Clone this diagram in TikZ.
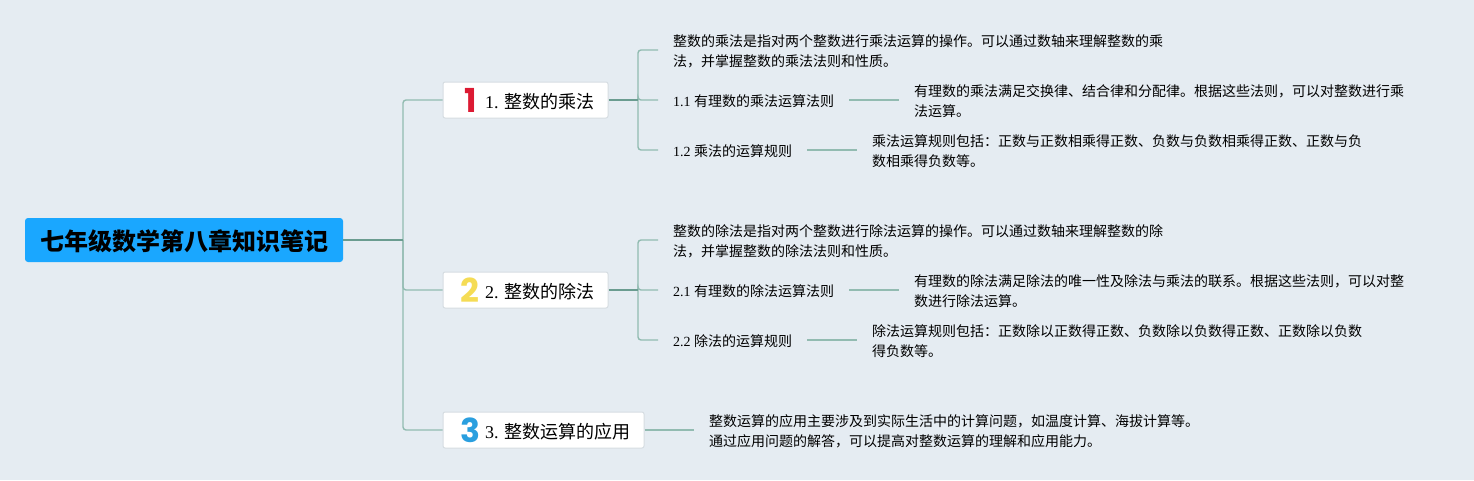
\documentclass[tikz,border=0pt]{standalone}
\usepackage{fontspec}
\setmainfont{Liberation Serif}
\newfontfamily\cjk{Noto Sans CJK SC}
\newfontfamily\numfont{Poppins}
\definecolor{bgcol}{HTML}{E5ECF2}
\definecolor{rootcol}{HTML}{1AA7FF}
\definecolor{linkcol}{HTML}{92BBB1}
\definecolor{darkcol}{HTML}{6A9C90}
\definecolor{boxline}{HTML}{D6DDE2}
\definecolor{onecol}{HTML}{DC1A33}
\definecolor{twocol}{HTML}{F5DC55}
\definecolor{threecol}{HTML}{2A9FDF}
\tikzset{
  rootbox/.style={rectangle,rounded corners=3pt,fill=rootcol,minimum width=318pt,minimum height=44pt,inner sep=0pt,font=\fontsize{24}{28}\selectfont\cjk\bfseries,execute at begin node={\rule{0pt}{24pt}}},
  topicbox/.style={rectangle,rounded corners=2pt,draw=boxline,fill=white,line width=1pt,minimum height=36pt,inner sep=0pt},
  topictext/.style={anchor=west,inner sep=0pt,font=\fontsize{18}{22}\selectfont},
  numicon/.style={inner sep=0pt,font=\fontsize{33}{33}\selectfont\numfont\bfseries},
  notetext/.style={anchor=west,align=left,inner xsep=15pt,inner ysep=0pt,font=\fontsize{14}{20}\selectfont\cjk},
  sublabel/.style={anchor=west,inner xsep=15pt,inner ysep=0pt,font=\fontsize{14}{18}\selectfont},
  link/.style={draw=linkcol,line width=1.4pt,rounded corners=3pt},
  thicklink/.style={draw=darkcol,line width=1.6pt},
}
\begin{document}
\begin{tikzpicture}[x=1pt,y=-1pt]
\useasboundingbox[fill=bgcol] (0,0) rectangle (1474,480);
% root and topics
\node[rootbox] (root) at (184,240) {七年级数学第八章知识笔记};
\node[topicbox,minimum width=165pt] (t1) at (525.5,100) {};
\node[topicbox,minimum width=165pt] (t2) at (525.5,290) {};
\node[topicbox,minimum width=201pt] (t3) at (543.5,430) {};
\node[numicon,text=onecol] (n1) at (470.5,100) {1};
\node[numicon,text=twocol] (n2) at (470,290) {2};
\node[numicon,text=threecol] (n3) at (470,430) {3};
\node[topictext] (l1) at (485,102) {1. {\cjk 整数的乘法}};
\node[topictext] (l2) at (485,292) {2. {\cjk 整数的除法}};
\node[topictext] (l3) at (485,432) {3. {\cjk 整数运算的应用}};
% first topic
\node[notetext] (a0) at (658,51) {整数的乘法是指对两个整数进行乘法运算的操作。可以通过数轴来理解整数的乘\\法，并掌握整数的乘法法则和性质。};
\node[sublabel] (a1) at (658,101) {1.1 {\cjk 有理数的乘法运算法则}};
\node[sublabel] (a2) at (658,151) {1.2 {\cjk 乘法的运算规则}};
\node[notetext] (a3) at (899,101) {有理数的乘法满足交换律、结合律和分配律。根据这些法则，可以对整数进行乘\\法运算。};
\node[notetext] (a4) at (857,151) {乘法运算规则包括：正数与正数相乘得正数、负数与负数相乘得正数、正数与负\\数相乘得负数等。};
% second topic
\node[notetext] (b0) at (658,241) {整数的除法是指对两个整数进行除法运算的操作。可以通过数轴来理解整数的除\\法，并掌握整数的除法法则和性质。};
\node[sublabel] (b1) at (658,291) {2.1 {\cjk 有理数的除法运算法则}};
\node[sublabel] (b2) at (658,341) {2.2 {\cjk 除法的运算规则}};
\node[notetext] (b3) at (899,291) {有理数的除法满足除法的唯一性及除法与乘法的联系。根据这些法则，可以对整\\数进行除法运算。};
\node[notetext] (b4) at (857,341) {除法运算规则包括：正数除以正数得正数、负数除以负数得正数、正数除以负数\\得负数等。};
% third topic
\node[notetext] (c0) at (694,431) {整数运算的应用主要涉及到实际生活中的计算问题，如温度计算、海拔计算等。\\通过应用问题的解答，可以提高对整数运算的理解和应用能力。};
% connectors
\coordinate (j0) at (403,240);
\coordinate (j1) at (638,100);
\coordinate (j2) at (638,290);
\foreach \t in {t1,t2,t3}{\draw[link] (j0) |- (\t.west);}
\foreach \t in {a0,a1,a2}{\draw[link] (j1) |- ([yshift=1pt]\t.west);}
\foreach \t in {b0,b1,b2}{\draw[link] (j2) |- ([yshift=1pt]\t.west);}
\draw[thicklink] (root.east) -- (j0);
\draw[thicklink] (t1.east) -- (j1);
\draw[thicklink] (t2.east) -- (j2);
\foreach \s/\e in {a1/a3,a2/a4,b1/b3,b2/b4}{\draw[link] ([yshift=1pt]\s.east) -- ([yshift=1pt]\e.west);}
\draw[link] (t3.east) -- ([yshift=1pt]c0.west);
\end{tikzpicture}
\end{document}
